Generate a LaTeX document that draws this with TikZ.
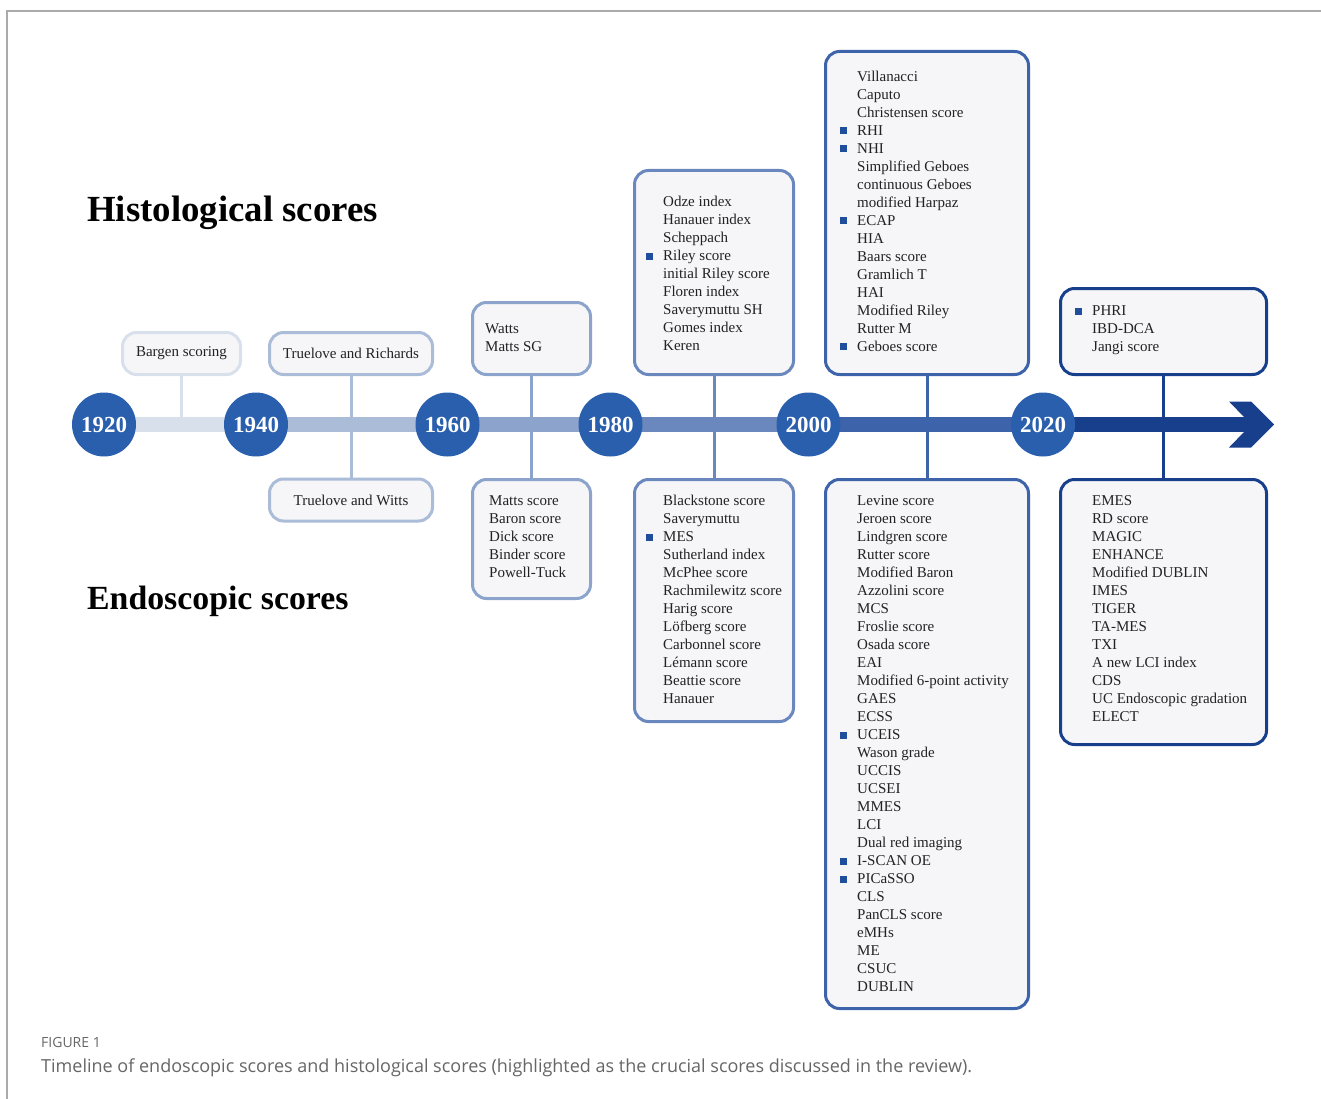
\documentclass[tikz,border=0pt]{standalone}
\usepackage{fontspec}
\setmainfont{Liberation Serif}
\newfontfamily\capfont{Open Sans}
\definecolor{cA}{HTML}{D8E0EC}
\definecolor{cB}{HTML}{ABBCD9}
\definecolor{cC}{HTML}{8CA4CC}
\definecolor{cD}{HTML}{6A88BD}
\definecolor{cE}{HTML}{3D64AA}
\definecolor{cF}{HTML}{173F8C}
\definecolor{circ}{HTML}{2A5FAE}
\definecolor{bul}{HTML}{1F4E9C}
\definecolor{boxfill}{HTML}{F6F6F8}
\definecolor{txt}{HTML}{222222}
\definecolor{frame}{HTML}{AAAAAA}
\definecolor{capgray}{HTML}{666666}
\newcommand{\hl}[1]{\llap{\textcolor{bul}{\rule[1pt]{7pt}{7pt}}\hspace{10pt}}#1}
\newcommand{\lst}[1]{\begin{tabular}[t]{@{}l@{}}#1\end{tabular}}
\tikzset{
  scorebox/.style={draw, rounded corners=14pt, line width=3pt, fill=boxfill,
    anchor=north west, inner sep=0pt, text=txt, font=\fontsize{15}{18}\selectfont},
  listtext/.style={anchor=base west, inner sep=0pt, text=txt, font=\fontsize{15}{18}\selectfont},
  year/.style={circle, fill=circ, minimum size=64pt, inner sep=0pt, text=white,
    font=\bfseries\fontsize{23}{23}\selectfont},
  bar/.style={line width=15pt},
  conn/.style={line width=3pt},
  title/.style={anchor=base west, inner sep=0pt}
}
\begin{document}
\begin{tikzpicture}[x=1pt,y=-1pt]
\useasboundingbox (0,0) rectangle (1321,1099);
\fill[white] (0,0) rectangle (1321,1099);
\draw[frame, line width=1.2pt] (7,1099) -- (7,11) -- (1321,11);

% titles
\node[title, font=\bfseries\fontsize{36.8}{36.8}\selectfont] (histT) at (87,222) {Histological scores};
\node[title, font=\bfseries\fontsize{33.8}{33.8}\selectfont] (endoT) at (87,609) {Endoscopic scores};

% year circles positions
\coordinate (p1920) at (104,424.5);
\coordinate (p1940) at (256,424.5);
\coordinate (p1960) at (447.5,424.5);
\coordinate (p1980) at (610.5,424.5);
\coordinate (p2000) at (808.5,424.5);
\coordinate (p2020) at (1043,424.5);
\coordinate (abase) at (1245,424.5);

% bar
\draw[bar, cA] (p1920) -- (p1940);
\draw[bar, cB] (p1940) -- (p1960);
\draw[bar, cC] (p1960) -- (p1980);
\draw[bar, cD] (p1980) -- (p2000);
\draw[bar, cE] (p2000) -- (p2020);
\draw[bar, cF] (p2020) -- (abase);
\fill[cF] (1229,401.5) -- (1251,401.5) -- (1274,424.5) -- (1251,447.5) -- (1229,447.5) -- (1244,432) -- (1244,417) -- cycle;

% boxes
\node[scorebox, draw=cA, minimum width=118pt, minimum height=42pt] (bargen) at (121,331) {};
\node[text=txt, font=\fontsize{15}{18}\selectfont] at (bargen.center) {Bargen scoring};
\node[scorebox, draw=cB, minimum width=163pt, minimum height=42pt] (trueR) at (268,331) {};
\node[text=txt, font=\fontsize{15}{18}\selectfont] at (trueR.center) {Truelove and Richards};
\node[scorebox, draw=cB, minimum width=163pt, minimum height=42pt] (trueW) at (268,477.5) {};
\node[text=txt, font=\fontsize{15}{18}\selectfont] at (trueW.center) {Truelove and Witts};

\node[scorebox, draw=cC, minimum width=118pt, minimum height=72pt] (watts) at (471,301) {};
\node[scorebox, draw=cC, minimum width=118pt, minimum height=119pt] (matts) at (471,478) {};

\node[scorebox, draw=cD, minimum width=159pt, minimum height=204pt] (odze) at (633,169) {};
\node[scorebox, draw=cD, minimum width=159pt, minimum height=242pt] (black) at (633,478) {};

\node[scorebox, draw=cE, minimum width=203pt, minimum height=323pt] (villa) at (824,50) {};
\node[scorebox, draw=cE, minimum width=203pt, minimum height=529pt] (levine) at (824,478) {};

\node[scorebox, draw=cF, minimum width=206pt, minimum height=86pt] (phri) at (1059,287) {};
\node[scorebox, draw=cF, minimum width=206pt, minimum height=265pt] (emes) at (1059,478) {};

% connectors
\coordinate (bargenEnd) at (bargen.south |- 0,418);
\draw[conn, cA] (bargen.south) -- (bargenEnd);
\draw[conn, cB] (trueR.south) -- (trueW.north);
\draw[conn, cC] (watts.south) -- (matts.north);
\draw[conn, cD] (odze.south) -- (black.north);
\draw[conn, cE] (villa.south) -- (levine.north);
\draw[conn, cF] (phri.south) -- (emes.north);

% year circles
\node[year] (y1920) at (p1920) {1920};
\node[year] (y1940) at (p1940) {1940};
\node[year] (y1960) at (p1960) {1960};
\node[year] (y1980) at (p1980) {1980};
\node[year] (y2000) at (p2000) {2000};
\node[year] (y2020) at (p2020) {2020};

% lists
\node[listtext] (wattsL) at (485,333) {\lst{Watts\\Matts SG}};
\node[listtext] (mattsL) at (489,505) {\lst{Matts score\\Baron score\\Dick score\\Binder score\\Powell-Tuck}};
\node[listtext] (odzeL) at (663,207) {\lst{Odze index\\Hanauer index\\Scheppach\\\hl{Riley score}\\initial Riley score\\Floren index\\Saverymuttu SH\\Gomes index\\Keren}};
\node[listtext] (blackL) at (663,505.5) {\lst{Blackstone score\\Saverymuttu\\\hl{MES}\\Sutherland index\\McPhee score\\Rachmilewitz score\\Harig score\\Löfberg score\\Carbonnel score\\Lémann score\\Beattie score\\Hanauer}};
\node[listtext] (villaL) at (857,81.5) {\lst{Villanacci\\Caputo\\Christensen score\\\hl{RHI}\\\hl{NHI}\\Simplified Geboes\\continuous Geboes\\modified Harpaz\\\hl{ECAP}\\HIA\\Baars score\\Gramlich T\\HAI\\Modified Riley\\Rutter M\\\hl{Geboes score}}};
\node[listtext] (levineL) at (857,505.5) {\lst{Levine score\\Jeroen score\\Lindgren score\\Rutter score\\Modified Baron\\Azzolini score\\MCS\\Froslie score\\Osada score\\EAI\\Modified 6-point activity\\GAES\\ECSS\\\hl{UCEIS}\\Wason grade\\UCCIS\\UCSEI\\MMES\\LCI\\Dual red imaging\\\hl{I-SCAN OE}\\\hl{PICaSSO}\\CLS\\PanCLS score\\eMHs\\ME\\CSUC\\DUBLIN}};
\node[listtext] (phriL) at (1092,315.5) {\lst{\hl{PHRI}\\IBD-DCA\\Jangi score}};
\node[listtext] (emesL) at (1092,505.5) {\lst{EMES\\RD score\\MAGIC\\ENHANCE\\Modified DUBLIN\\IMES\\TIGER\\TA-MES\\TXI\\A new LCI index\\CDS\\UC Endoscopic gradation\\ELECT}};

% caption
\node[anchor=base west, inner sep=0pt, text=capgray, font=\capfont\fontsize{14}{14}\selectfont] (figlab) at (41,1047) {FIGURE 1};
\node[anchor=base west, inner sep=0pt, text=capgray, font=\capfont\fontsize{18}{18}\selectfont] (caption) at (41,1072) {Timeline of endoscopic scores and histological scores (highlighted as the crucial scores discussed in the review).};
\end{tikzpicture}
\end{document}
